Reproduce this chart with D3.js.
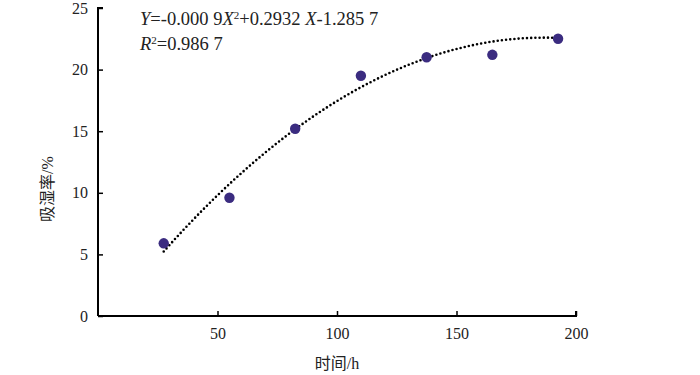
<!DOCTYPE html>
<html>
<head>
<meta charset="utf-8">
<script src="https://cdn.jsdelivr.net/npm/d3@7"></script>
<style>
  body { margin: 0; background: #fff; }
</style>
</head>
<body>
<div id="chart"></div>
<script>
// data
var hours = [24, 48, 72, 96, 120, 144, 168];
var xPos = [27.5, 55, 82.5, 110, 137.5, 165, 192.5];   // where the points sit on the drawn x axis
var moisture = [5.9, 9.6, 15.2, 19.5, 21.0, 21.2, 22.5];
var xTicks = [50, 100, 150, 200];
var yTicks = [0, 5, 10, 15, 20, 25];
// trendline coefficients from the label: Y = a X^2 + b X + c
var fitCoef = [-0.0009, 0.2932, -1.2857];

var SERIF = "Times New Roman, Liberation Serif, Tinos, DejaVu Serif, serif";
var CJK = "Noto Sans CJK SC, sans-serif";

var svgWidth = 700, svgHeight = 375;

var svg = d3.select("#chart")
  .append("svg")
  .attr("width", svgWidth)
  .attr("height", svgHeight);

var xScale = d3.scaleLinear().domain([0, 200]).range([98, 576]);
var yScale = d3.scaleLinear().domain([0, 25]).range([316, 8]);

// hours -> position on the drawn axis
var hourScale = d3.scaleLinear()
  .domain(d3.extent(hours))
  .range(d3.extent(xPos));

// axes
var xAxis = d3.axisBottom(xScale).tickValues(xTicks).tickSize(-5).tickPadding(12);
var yAxis = d3.axisLeft(yScale).tickValues(yTicks).tickSize(-5).tickPadding(10);

var gx = svg.append("g")
  .attr("transform", `translate(0, ${yScale(0)})`)
  .call(xAxis);
var gy = svg.append("g")
  .attr("transform", `translate(${xScale(0)}, 0)`)
  .call(yAxis);

[gx, gy].forEach(function(g) {
  g.attr("font-family", null).attr("font-size", null);
  g.select(".domain").attr("stroke", "#000").attr("stroke-width", 2);
  g.selectAll(".tick line").attr("stroke", "#000").attr("stroke-width", 1.5);
  g.selectAll(".tick text")
    .style("font-family", SERIF)
    .style("font-size", "16px")
    .attr("fill", "#222");
});
gx.select(".domain").attr("d", `M${xScale(0)},0H${xScale(200)}V-5`);
gy.select(".domain").attr("d", `M5,${yScale(25)}H0V${yScale(0)}`);

// trendline (dotted)
var fitX = d3.range(hours[0], hours[hours.length - 1] + 0.5, 1);
var line = d3.line()
  .x(d => xScale(hourScale(d)))
  .y(d => yScale(fitCoef[0] * d * d + fitCoef[1] * d + fitCoef[2]));

svg.append("path")
  .datum(fitX)
  .attr("d", line)
  .attr("fill", "none")
  .attr("stroke", "#000")
  .attr("stroke-width", 2.6)
  .attr("stroke-linecap", "round")
  .attr("stroke-dasharray", "0 4.2");

// points
svg.selectAll("circle.pt")
  .data(moisture)
  .enter()
  .append("circle")
  .attr("class", "pt")
  .attr("cx", (d, i) => xScale(xPos[i]))
  .attr("cy", d => yScale(d))
  .attr("r", 5.2)
  .attr("fill", "#3b2c80");

// axis titles
var xt = svg.append("text")
  .attr("x", 337)
  .attr("y", 369)
  .attr("text-anchor", "middle")
  .style("font-size", "16px")
  .attr("fill", "#222");
xt.append("tspan").style("font-family", CJK).text("时间");
xt.append("tspan").style("font-family", SERIF).text("/h");

var yt = svg.append("text")
  .attr("transform", "translate(53, 189) rotate(-90)")
  .attr("text-anchor", "middle")
  .style("font-size", "16px")
  .attr("fill", "#222");
yt.append("tspan").style("font-family", CJK).text("吸湿率");
yt.append("tspan").style("font-family", SERIF).text("/%");

// equation label
var eq = svg.append("text")
  .style("font-family", SERIF)
  .attr("x", 140)
  .attr("y", 25)
  .style("font-size", "18.5px")
  .attr("fill", "#222");
eq.append("tspan").style("font-style", "italic").text("Y");
eq.append("tspan").text("=-0.000 9");
eq.append("tspan").style("font-style", "italic").text("X");
eq.append("tspan").style("font-size", "11px").attr("dy", -6).text("2");
eq.append("tspan").attr("dy", 6).text("+0.2932 ");
eq.append("tspan").style("font-style", "italic").text("X");
eq.append("tspan").text("-1.285 7");

var r2 = svg.append("text")
  .style("font-family", SERIF)
  .attr("x", 140)
  .attr("y", 50)
  .style("font-size", "18.5px")
  .attr("fill", "#222");
r2.append("tspan").style("font-style", "italic").text("R");
r2.append("tspan").style("font-size", "11px").attr("dy", -6).text("2");
r2.append("tspan").attr("dy", 6).text("=0.986 7");
</script>
</body>
</html>
